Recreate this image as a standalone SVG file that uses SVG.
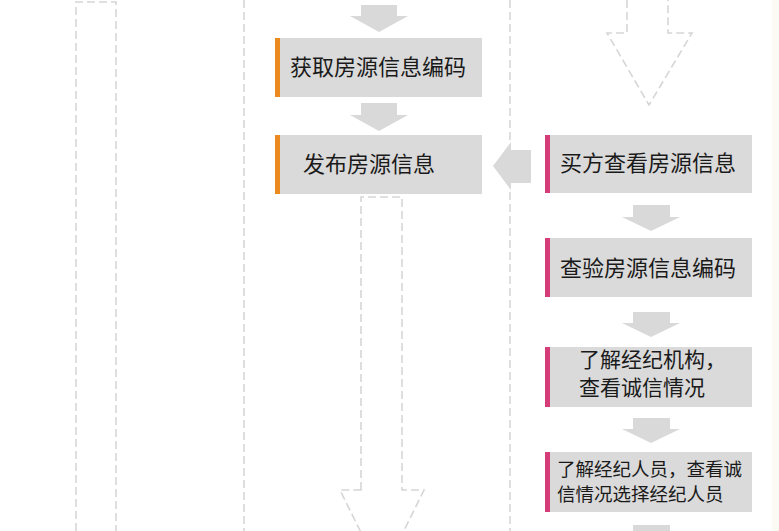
<svg xmlns="http://www.w3.org/2000/svg" width="779" height="531" viewBox="0 0 779 531">
<style>
.bg{fill:#ffffff}
.dash{fill:none;stroke:#d6d6d6;stroke-width:1.6;stroke-dasharray:8 4}
.box{fill:#dadada}
.arr{fill:#d9d9d9}
.org{fill:#ec8a1f}
.pink{fill:#d63c78}
.t{font-family:"Noto Sans CJK SC","Noto Sans",sans-serif;font-size:22px;fill:#1a1a1a}
.m{font-size:21px}
.s{font-size:18.5px}
</style>
<rect class="bg" x="0" y="0" width="779" height="531"/>
<rect x="772" y="0" width="7" height="531" fill="#fbfaf3"/>
<g id="connectors">
  <path class="dash" d="M76,531 V2 H116 V531"/>
  <path class="dash" d="M244,0 V531"/>
  <path class="dash" d="M510,0 V531"/>
  <path class="dash" d="M627,0 V33 H607 L649,105 L692,33 H668 V0"/>
  <path class="dash" d="M361,490 V197 H402 V490 H424 L382,575 L340,490 Z"/>
  <polygon class="arr" points="361,5 397,5 397,16 408,16 379,32 350,16 361,16"/>
  <polygon class="arr" points="361,103 397,103 397,115 408,115 379,131 350,115 361,115"/>
  <polygon class="arr" points="531,150 531,183 511,183 511,190 493,166 511,142 511,150"/>
  <polygon class="arr" points="633,205 670,205 670,217 680,217 651,231 622,217 633,217"/>
  <polygon class="arr" points="633,312 670,312 670,323 680,323 651,337 622,323 633,323"/>
  <polygon class="arr" points="633,418 670,418 670,429 680,429 651,443 622,429 633,429"/>
  <polygon class="arr" points="633,525 670,525 670,536 680,536 651,550 622,536 633,536"/>
</g>
<g id="n1">
  <rect class="box" x="275" y="38" width="207" height="59"/>
  <rect class="org" x="275" y="38" width="5" height="59"/>
  <text class="t" x="290" y="75">获取房源信息编码</text>
</g>
<g id="n2">
  <rect class="box" x="275" y="135" width="207" height="59"/>
  <rect class="org" x="275" y="135" width="5" height="59"/>
  <text class="t" x="303" y="172">发布房源信息</text>
</g>
<g id="n3">
  <rect class="box" x="545" y="135" width="207" height="58"/>
  <rect class="pink" x="545" y="135" width="5" height="58"/>
  <text class="t" x="560" y="171">买方查看房源信息</text>
</g>
<g id="n4">
  <rect class="box" x="545" y="238" width="207" height="59"/>
  <rect class="pink" x="545" y="238" width="5" height="59"/>
  <text class="t" x="560" y="276">查验房源信息编码</text>
</g>
<g id="n5">
  <rect class="box" x="545" y="347" width="207" height="60"/>
  <rect class="pink" x="545" y="347" width="5" height="60"/>
  <text class="t m" x="579" y="367">了解经纪机构，</text>
  <text class="t m" x="579" y="395">查看诚信情况</text>
</g>
<g id="n6">
  <rect class="box" x="545" y="452" width="207" height="60"/>
  <rect class="pink" x="545" y="452" width="5" height="60"/>
  <text class="t s" x="557" y="476">了解经纪人员，查看诚</text>
  <text class="t s" x="557" y="501">信情况选择经纪人员</text>
</g>
</svg>
